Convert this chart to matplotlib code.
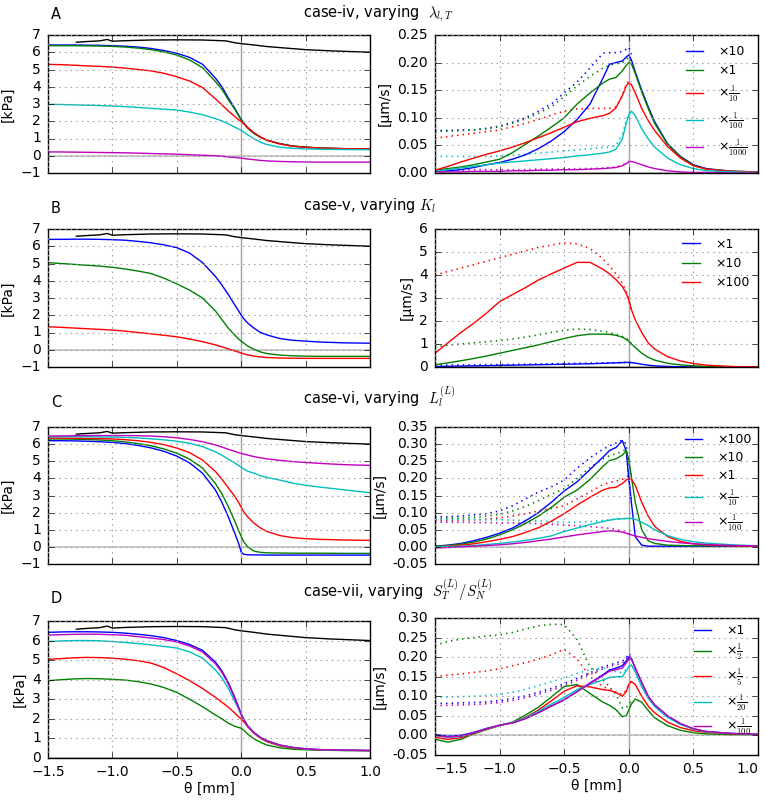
import matplotlib
matplotlib.use('Agg')
import matplotlib.pyplot as plt
from matplotlib.ticker import MultipleLocator, FormatStrFormatter

plt.style.use('classic')
plt.rcParams.update({
    'font.family': ['DejaVu Sans'],
    'font.size': 10,
    'mathtext.fontset': 'cm',
    'figure.facecolor': 'white',
    'savefig.facecolor': 'white',
    'axes.facecolor': 'white',
    'xtick.major.pad': 5, 'ytick.major.pad': 5,
    'legend.frameon': False,
    'legend.fontsize': 9,
    'axes.unicode_minus': True,
})

# ---------------- data ----------------
theta = [-1.5, -1.4, -1.3, -1.2, -1.1, -1.0, -0.9, -0.8, -0.7, -0.6, -0.5, -0.4, -0.3, -0.2, -0.15,
         -0.1, -0.05, -0.02, 0.0, 0.02, 0.05, 0.1, 0.15, 0.2, 0.3, 0.4, 0.5, 0.6, 0.8, 1.0]
theta_dot = theta[:20]
x_ticks = [-1.5, -1.0, -0.5, 0.0, 0.5, 1.0]

ref_theta = [-1.28, -1.2, -1.1, -1.04, -1.0, -0.9, -0.7, -0.5, -0.3, -0.12, -0.05, 0.0, 0.1, 0.2, 0.3, 0.5, 0.7, 1.0]
ref_p = [6.58, 6.62, 6.66, 6.74, 6.64, 6.67, 6.71, 6.72, 6.71, 6.66, 6.55, 6.5, 6.42, 6.33, 6.27, 6.15, 6.08, 6.0]

# case-iv (A)
A_labels = ['×10', '×1', r'×$\frac{1}{10}$', r'×$\frac{1}{100}$', r'×$\frac{1}{1000}$']
A_p_x10 = [6.42, 6.42, 6.42, 6.41, 6.4, 6.38, 6.35, 6.3, 6.22, 6.1, 5.94, 5.7, 5.3, 4.5, 4.0, 3.35, 2.75, 2.35, 2.1, 1.9, 1.62, 1.3, 1.08, 0.9, 0.7, 0.56, 0.5, 0.45, 0.41, 0.4]
A_p_x1 = [6.38, 6.38, 6.38, 6.37, 6.36, 6.34, 6.3, 6.24, 6.15, 6.02, 5.84, 5.55, 5.1, 4.3, 3.85, 3.25, 2.7, 2.32, 2.08, 1.88, 1.6, 1.28, 1.07, 0.9, 0.7, 0.56, 0.5, 0.45, 0.41, 0.4]
A_p_d10 = [5.3, 5.28, 5.25, 5.21, 5.18, 5.14, 5.08, 5.0, 4.92, 4.78, 4.58, 4.33, 3.95, 3.3, 2.95, 2.6, 2.27, 2.09, 1.98, 1.85, 1.65, 1.33, 1.08, 0.9, 0.68, 0.55, 0.49, 0.45, 0.41, 0.4]
A_p_d100 = [2.98, 2.97, 2.95, 2.93, 2.91, 2.88, 2.85, 2.8, 2.75, 2.7, 2.65, 2.53, 2.38, 2.15, 2.02, 1.85, 1.66, 1.55, 1.47, 1.38, 1.22, 0.98, 0.78, 0.65, 0.5, 0.43, 0.4, 0.38, 0.36, 0.35]
A_p_d1000 = [0.22, 0.22, 0.21, 0.2, 0.19, 0.18, 0.17, 0.15, 0.13, 0.11, 0.09, 0.06, 0.03, 0.0, -0.03, -0.07, -0.1, -0.12, -0.14, -0.16, -0.19, -0.23, -0.27, -0.3, -0.33, -0.35, -0.36, -0.37, -0.37, -0.37]
A_v_x10 = [0.003, 0.004, 0.006, 0.01, 0.015, 0.019, 0.025, 0.033, 0.044, 0.058, 0.075, 0.097, 0.125, 0.172, 0.197, 0.2, 0.203, 0.21, 0.214, 0.205, 0.183, 0.15, 0.12, 0.093, 0.053, 0.03, 0.015, 0.008, 0.003, 0.002]
A_v_x1 = [0.005, 0.008, 0.011, 0.015, 0.02, 0.025, 0.037, 0.052, 0.067, 0.083, 0.1, 0.125, 0.145, 0.163, 0.17, 0.173, 0.185, 0.195, 0.2, 0.198, 0.18, 0.147, 0.117, 0.09, 0.052, 0.029, 0.014, 0.007, 0.003, 0.002]
A_v_d10 = [0.005, 0.012, 0.02, 0.027, 0.034, 0.04, 0.047, 0.055, 0.064, 0.073, 0.083, 0.093, 0.099, 0.104, 0.108, 0.118, 0.14, 0.158, 0.163, 0.16, 0.145, 0.117, 0.095, 0.077, 0.048, 0.027, 0.013, 0.007, 0.003, 0.002]
A_v_d100 = [0.003, 0.006, 0.009, 0.012, 0.015, 0.018, 0.02, 0.022, 0.024, 0.026, 0.028, 0.031, 0.033, 0.036, 0.038, 0.043, 0.062, 0.09, 0.105, 0.112, 0.104, 0.08, 0.062, 0.047, 0.027, 0.015, 0.008, 0.004, 0.002, 0.001]
A_v_d1000 = [0.002, 0.002, 0.002, 0.003, 0.003, 0.003, 0.004, 0.004, 0.005, 0.005, 0.006, 0.006, 0.007, 0.008, 0.009, 0.01, 0.013, 0.017, 0.02, 0.021, 0.019, 0.015, 0.011, 0.008, 0.004, 0.002, 0.001, 0.001, 0.0, 0.0]
A_q_x10 = [0.077, 0.077, 0.078, 0.078, 0.081, 0.085, 0.092, 0.1, 0.112, 0.125, 0.145, 0.165, 0.19, 0.217, 0.218, 0.218, 0.22, 0.224, 0.228, 0.215]
A_q_x1 = [0.075, 0.076, 0.077, 0.078, 0.08, 0.084, 0.09, 0.098, 0.108, 0.12, 0.138, 0.158, 0.175, 0.19, 0.195, 0.198, 0.2, 0.205, 0.21, 0.2]
A_q_d10 = [0.063, 0.066, 0.069, 0.072, 0.075, 0.078, 0.084, 0.09, 0.097, 0.105, 0.112, 0.116, 0.117, 0.117, 0.117, 0.12, 0.14, 0.16, 0.168, 0.165]
A_q_d100 = [0.03, 0.03, 0.03, 0.03, 0.03, 0.031, 0.032, 0.034, 0.036, 0.038, 0.04, 0.042, 0.044, 0.046, 0.047, 0.05, 0.07, 0.095, 0.108, 0.113]
A_q_d1000 = [0.005, 0.005, 0.005, 0.006, 0.006, 0.006, 0.006, 0.006, 0.007, 0.007, 0.007, 0.008, 0.008, 0.009, 0.01, 0.011, 0.014, 0.018, 0.021, 0.022]

# case-v (B)
B_labels = ['×1', '×10', '×100']
B_p_x1 = [6.4, 6.4, 6.41, 6.41, 6.4, 6.38, 6.35, 6.28, 6.2, 6.08, 5.92, 5.6, 5.05, 4.25, 3.75, 3.2, 2.6, 2.25, 2.0, 1.8, 1.55, 1.25, 1.0, 0.86, 0.65, 0.55, 0.5, 0.45, 0.4, 0.38]
B_p_x10 = [5.05, 5.0, 4.95, 4.9, 4.85, 4.78, 4.68, 4.56, 4.42, 4.15, 3.82, 3.45, 3.0, 2.25, 1.75, 1.25, 0.85, 0.62, 0.5, 0.38, 0.22, 0.02, -0.13, -0.22, -0.31, -0.35, -0.37, -0.38, -0.38, -0.38]
B_p_x100 = [1.33, 1.3, 1.26, 1.22, 1.18, 1.14, 1.08, 1.0, 0.92, 0.84, 0.75, 0.62, 0.47, 0.28, 0.17, 0.05, -0.07, -0.14, -0.19, -0.24, -0.3, -0.37, -0.42, -0.45, -0.48, -0.49, -0.5, -0.5, -0.5, -0.5]
B_v_x1 = [0.02, 0.03, 0.04, 0.05, 0.06, 0.07, 0.08, 0.09, 0.1, 0.11, 0.12, 0.13, 0.14, 0.16, 0.17, 0.18, 0.19, 0.2, 0.2, 0.19, 0.17, 0.12, 0.08, 0.05, 0.025, 0.012, 0.006, 0.003, 0.001, 0.0]
B_v_x10 = [0.1, 0.18, 0.27, 0.37, 0.48, 0.6, 0.72, 0.84, 0.96, 1.1, 1.24, 1.36, 1.43, 1.43, 1.42, 1.38, 1.3, 1.2, 1.12, 1.0, 0.85, 0.6, 0.42, 0.3, 0.16, 0.09, 0.05, 0.03, 0.01, 0.0]
B_v_x100 = [0.6, 1.05, 1.5, 1.9, 2.35, 2.84, 3.15, 3.45, 3.78, 4.05, 4.3, 4.55, 4.55, 4.25, 4.05, 3.8, 3.5, 3.2, 2.9, 2.5, 2.05, 1.5, 1.05, 0.78, 0.45, 0.26, 0.15, 0.08, 0.02, 0.01]
B_q_x1 = [0.08, 0.085, 0.09, 0.095, 0.1, 0.105, 0.11, 0.12, 0.13, 0.14, 0.15, 0.16, 0.17, 0.18, 0.185, 0.19, 0.195, 0.2, 0.2, 0.19]
B_q_x10 = [0.88, 0.95, 1.0, 1.05, 1.1, 1.15, 1.22, 1.3, 1.4, 1.5, 1.6, 1.65, 1.63, 1.55, 1.5, 1.42, 1.33, 1.25, 1.15, 1.02]
B_q_x100 = [4.0, 4.15, 4.3, 4.45, 4.6, 4.75, 4.9, 5.05, 5.2, 5.3, 5.4, 5.35, 5.15, 4.7, 4.4, 4.05, 3.65, 3.3, 2.95, 2.5]

# case-vi (C)
C_labels = ['×100', '×10', '×1', r'×$\frac{1}{10}$', r'×$\frac{1}{100}$']
C_p_x100 = [6.2, 6.2, 6.19, 6.17, 6.14, 6.1, 6.03, 5.92, 5.78, 5.58, 5.3, 4.9, 4.3, 3.32, 2.6, 1.75, 0.8, 0.2, -0.3, -0.43, -0.46, -0.47, -0.47, -0.48, -0.48, -0.48, -0.48, -0.48, -0.48, -0.48]
C_p_x10 = [6.3, 6.3, 6.29, 6.27, 6.24, 6.2, 6.13, 6.03, 5.9, 5.72, 5.47, 5.12, 4.6, 3.7, 3.1, 2.35, 1.5, 0.95, 0.6, 0.3, 0.0, -0.25, -0.32, -0.35, -0.36, -0.37, -0.37, -0.37, -0.38, -0.38]
C_p_x1 = [6.35, 6.35, 6.34, 6.33, 6.32, 6.3, 6.26, 6.2, 6.1, 5.97, 5.77, 5.5, 5.07, 4.4, 3.95, 3.45, 2.95, 2.6, 2.3, 2.05, 1.75, 1.38, 1.1, 0.9, 0.66, 0.54, 0.48, 0.44, 0.4, 0.38]
C_p_d10 = [6.43, 6.43, 6.43, 6.43, 6.42, 6.41, 6.39, 6.36, 6.31, 6.25, 6.17, 6.05, 5.85, 5.55, 5.35, 5.12, 4.9, 4.75, 4.65, 4.55, 4.42, 4.3, 4.15, 4.05, 3.9, 3.72, 3.6, 3.5, 3.33, 3.16]
C_p_d100 = [6.47, 6.48, 6.49, 6.5, 6.5, 6.5, 6.5, 6.49, 6.47, 6.43, 6.37, 6.27, 6.14, 5.95, 5.83, 5.7, 5.58, 5.5, 5.46, 5.42, 5.36, 5.27, 5.2, 5.14, 5.05, 4.98, 4.93, 4.88, 4.8, 4.76]
C_v_x100 = [0.002, 0.005, 0.01, 0.018, 0.028, 0.04, 0.055, 0.076, 0.1, 0.13, 0.163, 0.19, 0.226, 0.262, 0.281, 0.29, 0.31, 0.28, 0.2, 0.13, 0.03, 0.005, 0.002, 0.002, 0.002, 0.002, 0.002, 0.002, 0.002, 0.002]
C_v_x10 = [0.002, 0.004, 0.008, 0.014, 0.023, 0.035, 0.05, 0.068, 0.09, 0.115, 0.145, 0.166, 0.197, 0.235, 0.252, 0.257, 0.268, 0.28, 0.255, 0.205, 0.13, 0.05, 0.018, 0.01, 0.005, 0.004, 0.003, 0.003, 0.003, 0.003]
C_v_x1 = [0.0, 0.002, 0.005, 0.009, 0.015, 0.022, 0.03, 0.042, 0.056, 0.075, 0.097, 0.122, 0.145, 0.166, 0.172, 0.174, 0.185, 0.195, 0.2, 0.198, 0.18, 0.13, 0.09, 0.06, 0.03, 0.016, 0.009, 0.006, 0.003, 0.002]
C_v_d10 = [0.0, 0.001, 0.002, 0.004, 0.007, 0.01, 0.014, 0.019, 0.025, 0.032, 0.045, 0.055, 0.065, 0.074, 0.078, 0.081, 0.082, 0.083, 0.083, 0.083, 0.081, 0.072, 0.062, 0.05, 0.033, 0.022, 0.015, 0.011, 0.006, 0.003]
C_v_d100 = [-0.003, -0.002, 0.0, 0.002, 0.004, 0.006, 0.009, 0.013, 0.018, 0.023, 0.029, 0.035, 0.04, 0.045, 0.047, 0.046, 0.043, 0.04, 0.037, 0.035, 0.032, 0.028, 0.024, 0.021, 0.016, 0.012, 0.009, 0.007, 0.004, 0.003]
C_q_x100 = [0.088, 0.088, 0.09, 0.093, 0.097, 0.105, 0.12, 0.14, 0.16, 0.175, 0.195, 0.23, 0.26, 0.285, 0.295, 0.303, 0.312, 0.3, 0.2, 0.13]
C_q_x10 = [0.083, 0.083, 0.084, 0.086, 0.09, 0.095, 0.105, 0.118, 0.135, 0.153, 0.17, 0.2, 0.232, 0.257, 0.266, 0.272, 0.278, 0.285, 0.255, 0.205]
C_q_x1 = [0.077, 0.077, 0.078, 0.079, 0.081, 0.085, 0.09, 0.097, 0.105, 0.112, 0.12, 0.14, 0.16, 0.182, 0.188, 0.192, 0.197, 0.205, 0.207, 0.2]
C_q_d10 = [0.08, 0.08, 0.08, 0.08, 0.079, 0.079, 0.078, 0.077, 0.076, 0.074, 0.072, 0.072, 0.074, 0.077, 0.079, 0.081, 0.082, 0.083, 0.083, 0.083]
C_q_d100 = [0.072, 0.072, 0.072, 0.071, 0.071, 0.07, 0.07, 0.069, 0.068, 0.066, 0.064, 0.062, 0.059, 0.056, 0.054, 0.051, 0.047, 0.043, 0.04, 0.037]

# case-vii (D)
D_labels = ['×1', r'×$\frac{1}{2}$', r'×$\frac{1}{5}$', r'×$\frac{1}{20}$', r'×$\frac{1}{100}$']
D_p_x1 = [6.42, 6.44, 6.45, 6.45, 6.44, 6.42, 6.38, 6.32, 6.25, 6.15, 6.0, 5.8, 5.5, 4.9, 4.45, 3.85, 3.1, 2.6, 2.25, 1.98, 1.65, 1.3, 1.05, 0.88, 0.66, 0.54, 0.47, 0.43, 0.4, 0.38]
D_p_d2 = [3.95, 4.0, 4.04, 4.06, 4.05, 4.02, 3.98, 3.9, 3.78, 3.6, 3.35, 3.0, 2.62, 2.2, 2.0, 1.78, 1.62, 1.56, 1.52, 1.42, 1.22, 0.98, 0.8, 0.66, 0.52, 0.45, 0.42, 0.4, 0.38, 0.38]
D_p_d5 = [5.04, 5.08, 5.12, 5.14, 5.13, 5.1, 5.05, 4.97, 4.85, 4.62, 4.3, 3.95, 3.55, 3.1, 2.85, 2.6, 2.3, 2.1, 2.0, 1.85, 1.6, 1.25, 1.0, 0.83, 0.62, 0.51, 0.45, 0.42, 0.39, 0.38]
D_p_d20 = [5.95, 5.98, 6.0, 6.0, 5.99, 5.95, 5.9, 5.85, 5.78, 5.7, 5.62, 5.42, 5.1, 4.5, 4.1, 3.55, 2.9, 2.5, 2.22, 1.95, 1.62, 1.28, 1.03, 0.87, 0.65, 0.53, 0.46, 0.42, 0.39, 0.38]
D_p_d100 = [6.28, 6.3, 6.32, 6.33, 6.32, 6.3, 6.27, 6.2, 6.13, 6.05, 5.93, 5.72, 5.42, 4.82, 4.38, 3.78, 3.05, 2.55, 2.2, 1.95, 1.63, 1.29, 1.04, 0.88, 0.66, 0.54, 0.47, 0.43, 0.4, 0.38]
D_v_x1 = [0.002, -0.002, 0.0, 0.008, 0.018, 0.026, 0.032, 0.043, 0.058, 0.075, 0.091, 0.112, 0.134, 0.155, 0.167, 0.172, 0.178, 0.19, 0.2, 0.197, 0.172, 0.135, 0.1, 0.078, 0.05, 0.03, 0.017, 0.01, 0.005, 0.003]
D_v_d2 = [-0.01, -0.017, -0.01, 0.004, 0.015, 0.025, 0.034, 0.052, 0.072, 0.098, 0.125, 0.13, 0.107, 0.085, 0.077, 0.066, 0.048, 0.05, 0.065, 0.08, 0.093, 0.085, 0.064, 0.045, 0.025, 0.013, 0.007, 0.004, 0.002, 0.002]
D_v_d5 = [-0.005, -0.01, -0.006, 0.006, 0.016, 0.026, 0.033, 0.046, 0.065, 0.088, 0.113, 0.127, 0.124, 0.117, 0.115, 0.11, 0.1, 0.112, 0.13, 0.138, 0.13, 0.1, 0.075, 0.058, 0.034, 0.02, 0.012, 0.008, 0.004, 0.003]
D_v_d20 = [0.0, -0.005, -0.003, 0.007, 0.017, 0.026, 0.033, 0.045, 0.062, 0.08, 0.097, 0.117, 0.13, 0.142, 0.148, 0.15, 0.15, 0.165, 0.175, 0.18, 0.162, 0.125, 0.095, 0.074, 0.046, 0.028, 0.016, 0.009, 0.005, 0.003]
D_v_d100 = [0.0, -0.004, -0.002, 0.007, 0.017, 0.026, 0.032, 0.043, 0.058, 0.075, 0.091, 0.112, 0.133, 0.153, 0.164, 0.168, 0.172, 0.185, 0.195, 0.195, 0.172, 0.135, 0.1, 0.078, 0.05, 0.03, 0.017, 0.01, 0.005, 0.003]
D_q_x1 = [0.082, 0.082, 0.083, 0.084, 0.086, 0.089, 0.094, 0.101, 0.11, 0.12, 0.132, 0.146, 0.16, 0.175, 0.18, 0.185, 0.19, 0.198, 0.21, 0.2]
D_q_d2 = [0.23, 0.24, 0.246, 0.25, 0.254, 0.257, 0.263, 0.272, 0.28, 0.284, 0.283, 0.245, 0.175, 0.142, 0.125, 0.105, 0.07, 0.07, 0.08, 0.088]
D_q_d5 = [0.151, 0.154, 0.157, 0.161, 0.165, 0.17, 0.178, 0.186, 0.195, 0.206, 0.22, 0.195, 0.15, 0.125, 0.117, 0.11, 0.105, 0.115, 0.13, 0.138]
D_q_d20 = [0.098, 0.098, 0.099, 0.1, 0.102, 0.105, 0.11, 0.118, 0.127, 0.137, 0.147, 0.158, 0.168, 0.172, 0.168, 0.163, 0.16, 0.168, 0.176, 0.18]
D_q_d100 = [0.076, 0.077, 0.078, 0.079, 0.081, 0.084, 0.089, 0.096, 0.105, 0.115, 0.127, 0.141, 0.156, 0.17, 0.176, 0.18, 0.185, 0.195, 0.205, 0.198]

colors5 = ['b', 'g', 'r', 'c', 'm']

rows = [
    dict(letter='A', title='case-iv, varying  $\\lambda_{l,T}$',
         left=[A_p_x10, A_p_x1, A_p_d10, A_p_d100, A_p_d1000],
         right=[A_v_x10, A_v_x1, A_v_d10, A_v_d100, A_v_d1000],
         dots=[A_q_x10, A_q_x1, A_q_d10, A_q_d100, A_q_d1000],
         labels=A_labels, lylim=(-1, 7), rylim=(0, 0.25), rstep=0.05, fmt='%.2f',
         lspace=0.5, lpad=0.4),
    dict(letter='B', title='case-v, varying $K_l$',
         left=[B_p_x1, B_p_x10, B_p_x100],
         right=[B_v_x1, B_v_x10, B_v_x100],
         dots=[B_q_x1, B_q_x10, B_q_x100],
         labels=B_labels, lylim=(-1, 7), rylim=(0, 6), rstep=1, fmt='%d',
         lspace=0.5, lpad=0.3),
    dict(letter='C', title='case-vi, varying  $L_l^{(L)}$',
         left=[C_p_x100, C_p_x10, C_p_x1, C_p_d10, C_p_d100],
         right=[C_v_x100, C_v_x10, C_v_x1, C_v_d10, C_v_d100],
         dots=[C_q_x100, C_q_x10, C_q_x1, C_q_d10, C_q_d100],
         labels=C_labels, lylim=(-1, 7), rylim=(-0.05, 0.35), rstep=0.05, fmt='%.2f',
         lspace=0.4, lpad=0.1),
    dict(letter='D', title='case-vii, varying  $S_T^{(L)}/S_N^{(L)}$',
         left=[D_p_x1, D_p_d2, D_p_d5, D_p_d20, D_p_d100],
         right=[D_v_x1, D_v_d2, D_v_d5, D_v_d20, D_v_d100],
         dots=[D_q_x1, D_q_d2, D_q_d5, D_q_d20, D_q_d100],
         labels=D_labels, lylim=(0, 7), rylim=(-0.05, 0.30), rstep=0.05, fmt='%.2f',
         lspace=0.35, lpad=0.1),
]

W, H = 765, 801
fig = plt.figure(figsize=(W / 100, H / 100), dpi=100)

left_boxes = [(35, 173), (229, 367), (427, 564), (621, 758)]
right_boxes = [(35, 173), (229, 367), (427, 564), (618, 755)]
title_base = [17, 210, 403, 597]
letter_base = [19, 213, 407, 603]


def make_ax(x0, x1, top, bot):
    return fig.add_axes([x0 / W, 1 - bot / H, (x1 - x0) / W, (bot - top) / H])


def style_ax(ax, last):
    ax.set_xlim(-1.5, 1.0)
    ax.set_xticks(x_ticks)
    ax.grid(True, color='0.6', linestyle=':', linewidth=0.8)
    ax.axvline(0, color='0.65', lw=1.0, zorder=1)
    ax.tick_params(which='both', direction='in', top=True, right=True, labelsize=10)
    if last:
        ax.set_xlabel('θ [mm]', fontsize=10, labelpad=2)
    else:
        ax.tick_params(labelbottom=False)


for i, row in enumerate(rows):
    last = i == len(rows) - 1
    t, b = left_boxes[i]
    axl = make_ax(48, 370, t, b)
    style_ax(axl, last)
    axl.axhline(0, color='0.78', lw=1.3, zorder=1)
    axl.plot(ref_theta, ref_p, color='k', lw=1.0)
    for ys, c in zip(row['left'], colors5):
        axl.plot(theta, ys, color=c, lw=1.0)
    axl.set_ylim(*row['lylim'])
    axl.yaxis.set_major_locator(MultipleLocator(1))
    axl.set_ylabel('[kPa]', fontsize=10, labelpad=4)

    t, b = right_boxes[i]
    axr = make_ax(435, 758, t, b)
    style_ax(axr, last)
    axr.axhline(0, color='0.78', lw=1.3, zorder=1)
    for ys, c in zip(row['dots'], colors5):
        axr.plot(theta_dot, ys, color=c, lw=1.2, linestyle=(0, (1, 3)))
    for ys, c, lab in zip(row['right'], colors5, row['labels']):
        axr.plot(theta, ys, color=c, lw=1.0, label=lab)
    axr.set_ylim(*row['rylim'])
    axr.yaxis.set_major_locator(MultipleLocator(row['rstep']))
    axr.yaxis.set_major_formatter(FormatStrFormatter(row['fmt']))
    axr.set_ylabel('[µm/s]', fontsize=10, labelpad=4)
    axr.legend(loc='upper right', frameon=False, fontsize=9, handlelength=2.0,
               handletextpad=0.9, labelspacing=row['lspace'], borderaxespad=row['lpad'])
    if last:
        ticks = axr.xaxis.get_major_ticks()
        ticks[0].label1.set_horizontalalignment('left')
        ticks[-1].label1.set_horizontalalignment('right')

    fig.text(303 / W, 1 - title_base[i] / H, row['title'], ha='left', va='baseline', fontsize=10.5)
    fig.text(51 / W, 1 - letter_base[i] / H, row['letter'], ha='left', va='baseline', fontsize=10.5)

fig.savefig('out.png', dpi=100)
